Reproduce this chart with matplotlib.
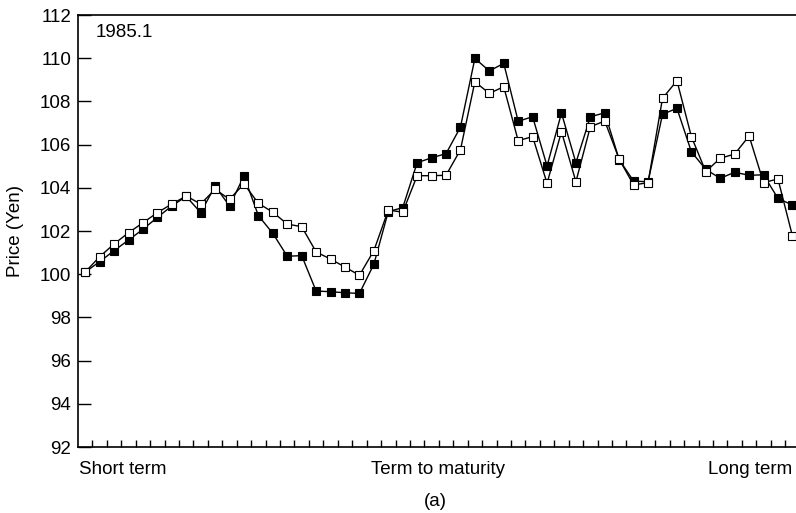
import numpy as np
import matplotlib
matplotlib.use("Agg")
import matplotlib.pyplot as plt

plt.rcParams['font.family'] = ['Liberation Sans', 'DejaVu Sans']

# bond prices along the term structure, 1985.1
filled = [100.1, 100.58, 101.09, 101.58, 102.08, 102.63, 103.16, 103.6, 102.85, 104.08,
          103.16, 104.55, 102.71, 101.89, 100.83, 100.86, 99.22, 99.19, 99.14, 99.11,
          100.46, 102.9, 103.08, 105.16, 105.39, 105.58, 106.81, 109.99, 109.41, 109.76,
          107.08, 107.29, 105.01, 107.46, 105.16, 107.29, 107.47, 105.3, 104.31, 104.28,
          107.4, 107.68, 105.67, 104.85, 104.44, 104.72, 104.58, 104.6, 103.51, 103.2]
hollow = [100.1, 100.81, 101.4, 101.92, 102.38, 102.85, 103.25, 103.62, 103.25, 103.93,
          103.47, 104.18, 103.28, 102.87, 102.32, 102.2, 101.03, 100.7, 100.33, 99.95,
          101.09, 102.97, 102.87, 104.56, 104.56, 104.58, 105.76, 108.91, 108.37, 108.68,
          106.18, 106.37, 104.21, 106.6, 104.28, 106.83, 107.09, 105.32, 104.13, 104.24,
          108.14, 108.96, 106.37, 104.75, 105.37, 105.56, 106.4, 104.24, 104.41, 101.78]
x = np.arange(len(filled))

fs = 13.5
fig = plt.figure(figsize=(7.96, 5.13), dpi=100)
ax = fig.add_axes([78/796, 1 - 447/513, 1 - 78/796, (447 - 15)/513])

ax.plot(x, filled, color="black", lw=1, marker="s", ms=6, mfc="black", mec="black", mew=0.8)
ax.plot(x, hollow, color="black", lw=1, marker="s", ms=6, mfc="white", mec="black", mew=0.8)

ax.set_xlim(-0.5, 49.25)
ax.set_ylim(92, 112)
ax.set_yticks(np.arange(92, 113, 2))
ax.set_xticks(np.arange(0.5, 49, 1))
ax.set_xticklabels([])
ax.tick_params(axis="y", direction="in", length=9, width=1, labelsize=fs, pad=5)
ax.tick_params(axis="x", direction="in", length=5, width=1)
ax.spines["right"].set_visible(False)
for s in ["left", "bottom", "top"]:
    ax.spines[s].set_linewidth(1.2)

ax.text(0.0247, 0.9588, "1985.1", transform=ax.transAxes, fontsize=fs, va="center", ha="left")

fig.text(16/796, 1 - 231/513, "Price (Yen)", fontsize=fs, rotation=90, ha="center", va="center")
fig.text(79/796, 1 - 470/513, "Short term", fontsize=fs, ha="left", va="center")
fig.text(438/796, 1 - 470/513, "Term to maturity", fontsize=fs, ha="center", va="center")
fig.text(792/796, 1 - 470/513, "Long term", fontsize=fs, ha="right", va="center")
fig.text(435/796, 1 - 501/513, "(a)", fontsize=fs, ha="center", va="center")

fig.savefig("out.png", dpi=100)
